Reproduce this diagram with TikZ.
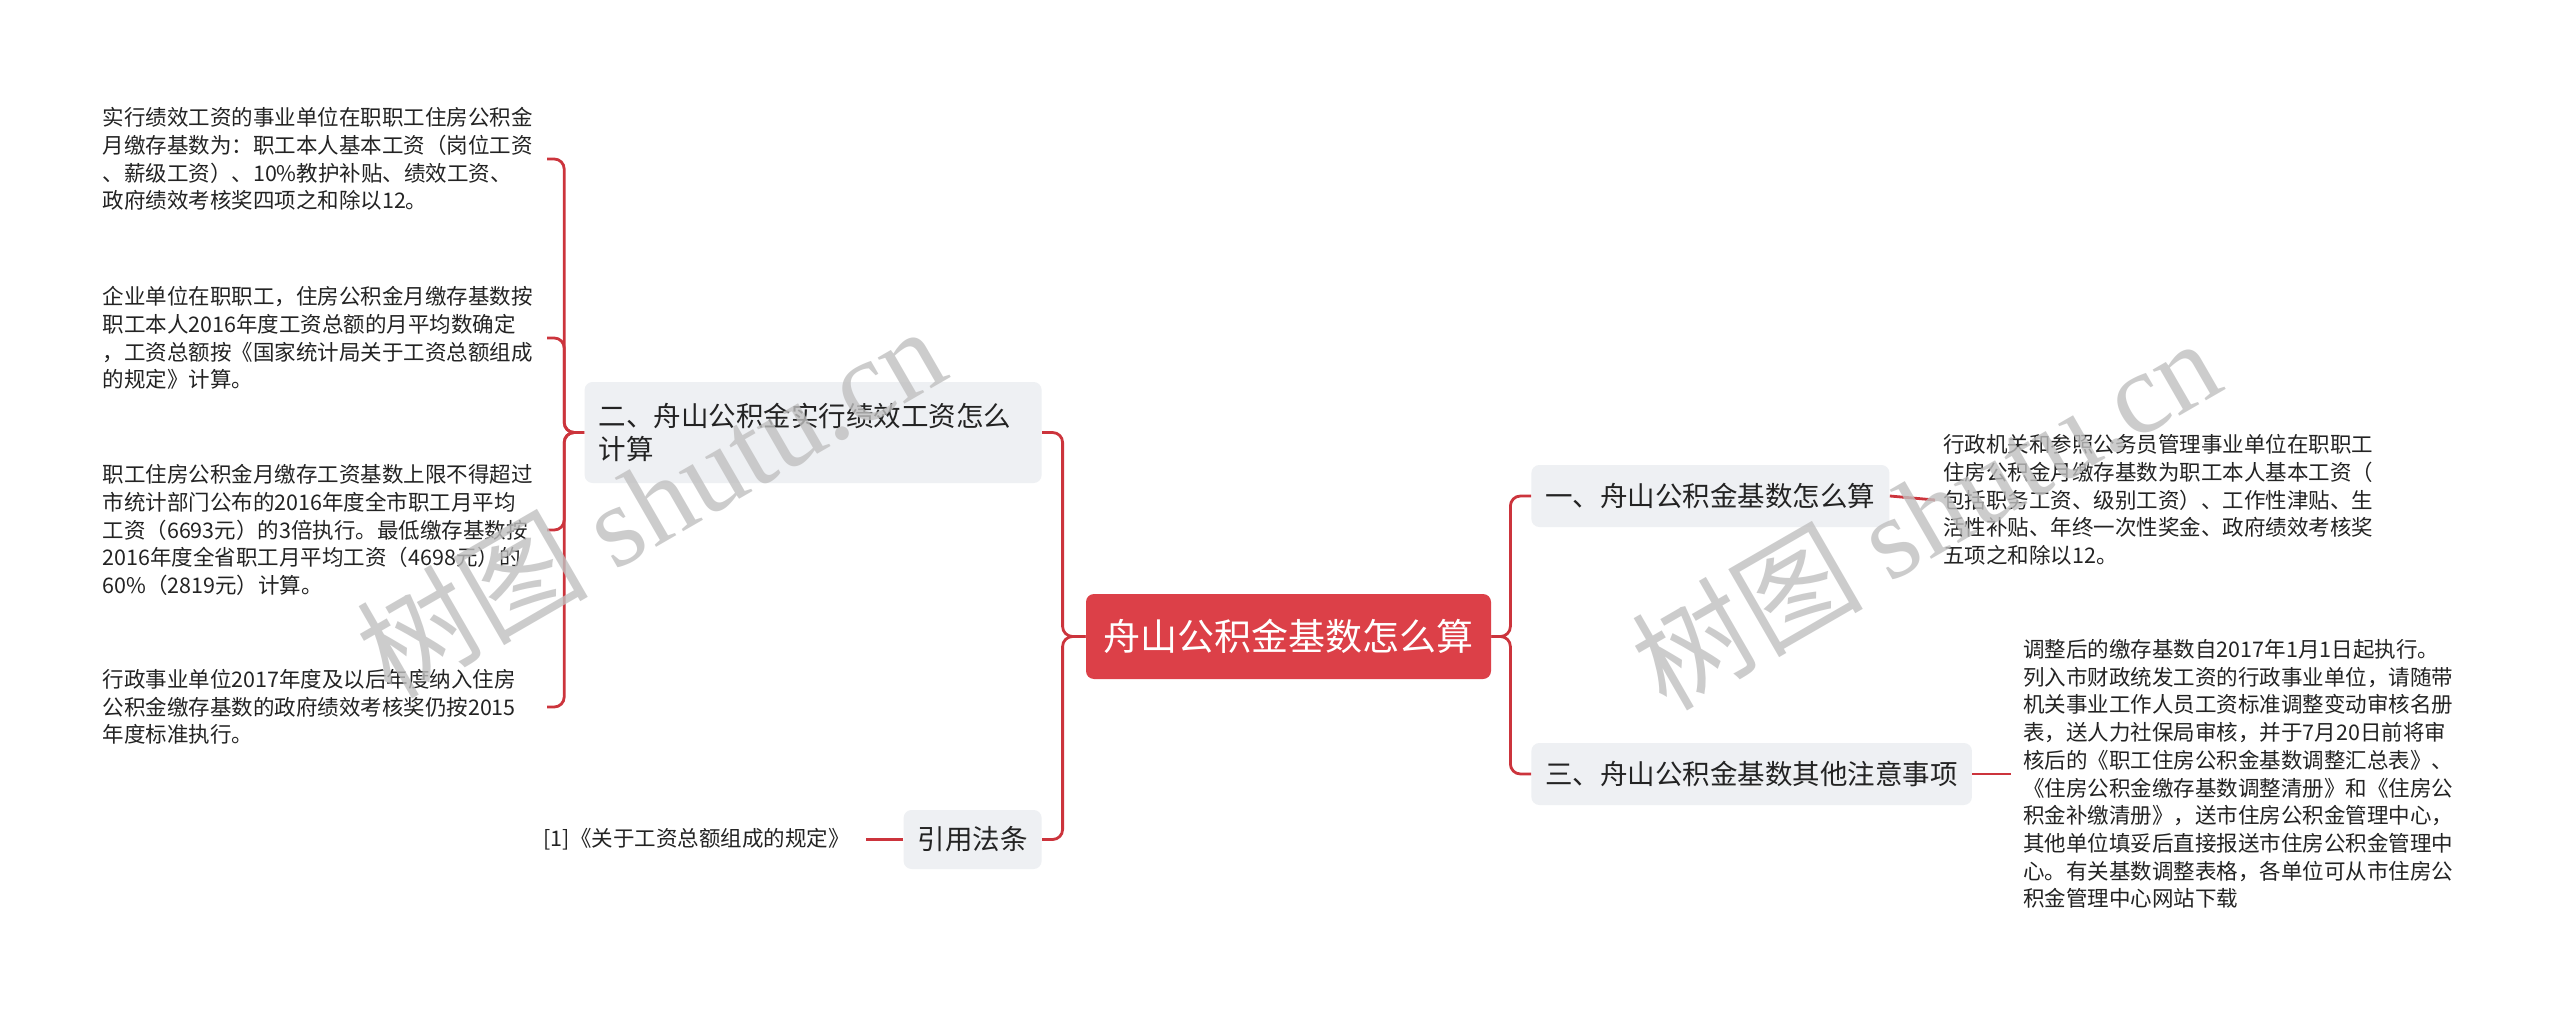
\documentclass[tikz,border=0pt]{standalone}
\usepackage{fontspec}
\setmainfont{Noto Sans CJK SC}
\newfontfamily\wmserif{Liberation Serif}
\definecolor{rootred}{RGB}{220,64,72}
\definecolor{linered}{RGB}{204,52,60}
\definecolor{topicgray}{RGB}{238,240,243}
\definecolor{wmgray}{RGB}{192,192,192}
\definecolor{textdark}{RGB}{35,35,35}
\tikzset{
  conn/.style={draw=linered, line width=1.4pt, rounded corners=5pt},
  rootbox/.style={fill=rootred, text=white, rounded corners=4pt,
    font=\fontsize{18.5}{22}\selectfont, minimum width=202.5pt,
    minimum height=42.5pt, inner sep=0pt},
  topicbox/.style={fill=topicgray, text=textdark, rounded corners=4pt,
    font=\fontsize{13.75}{16.5}\selectfont, inner xsep=7pt, inner ysep=0pt,
    minimum height=31pt},
  leafbox/.style={text=textdark, font=\fontsize{10.75}{13.85}\selectfont,
    inner sep=0pt, align=left},
  wmark/.style={rotate=30, text=wmgray, text opacity=0.8,
    font=\fontsize{58}{62}\selectfont}
}
\begin{document}
\begin{tikzpicture}[x=0.5pt,y=-0.5pt]
\useasboundingbox (0,0) rectangle (2560,1016);
\fill[white] (0,0) rectangle (2560,1016);

% root
\node[rootbox] (root) at (1288.5,636.5) {舟山公积金基数怎么算};

% topics
\node[topicbox, text width=214.5pt, align=left, minimum height=50.5pt, anchor=east]
  (t2) at (1042,432.5) {二、舟山公积金实行绩效工资怎么\\计算};
\node[topicbox, anchor=east, minimum height=29.5pt] (tc) at (1042,839.5) {引用法条};
\node[topicbox, anchor=west] (t1) at (1531,496) {一、舟山公积金基数怎么算};
\node[topicbox, anchor=west] (t3) at (1531,774) {三、舟山公积金基数其他注意事项};

% left leaves
\node[leafbox, text width=222pt, anchor=east] (l1) at (547,159)
  {实行绩效工资的事业单位在职职工住房公积金\\月缴存基数为：职工本人基本工资（岗位工资\\、薪级工资）、10\%教护补贴、绩效工资、\\政府绩效考核奖四项之和除以12。};
\node[leafbox, text width=222pt, anchor=east] (l2) at (547,338)
  {企业单位在职职工，住房公积金月缴存基数按\\职工本人2016年度工资总额的月平均数确定\\，工资总额按《国家统计局关于工资总额组成\\的规定》计算。};
\node[leafbox, text width=222pt, anchor=east] (l3) at (547,530)
  {职工住房公积金月缴存工资基数上限不得超过\\市统计部门公布的2016年度全市职工月平均\\工资（6693元）的3倍执行。最低缴存基数按\\2016年度全省职工月平均工资（4698元）的\\60\%（2819元）计算。};
\node[leafbox, text width=222pt, anchor=east] (l4) at (547,707)
  {行政事业单位2017年度及以后年度纳入住房\\公积金缴存基数的政府绩效考核奖仍按2015\\年度标准执行。};

% citation leaf
\node[leafbox, anchor=east, inner xsep=8pt] (c1) at (866,839.5)
  {[1]《关于工资总额组成的规定》};

% right leaves
\node[leafbox, text width=230pt, anchor=west, inner xsep=4pt] (r1) at (1935,500)
  {行政机关和参照公务员管理事业单位在职职工\\住房公积金月缴存基数为职工本人基本工资（\\包括职务工资、级别工资）、工作性津贴、生\\活性补贴、年终一次性奖金、政府绩效考核奖\\五项之和除以12。};
\node[leafbox, text width=230pt, anchor=west, inner xsep=6pt] (r2) at (2011,774)
  {调整后的缴存基数自2017年1月1日起执行。\\列入市财政统发工资的行政事业单位，请随带\\机关事业工作人员工资标准调整变动审核名册\\表，送人力社保局审核，并于7月20日前将审\\核后的《职工住房公积金基数调整汇总表》、\\《住房公积金缴存基数调整清册》和《住房公\\积金补缴清册》，送市住房公积金管理中心，\\其他单位填妥后直接报送市住房公积金管理中\\心。有关基数调整表格，各单位可从市住房公\\积金管理中心网站下载};

% connectors
\draw[conn] (root.west) -- ++(-23,0) |- (t2.east);
\draw[conn] (root.west) -- ++(-23,0) |- (tc.east);
\draw[conn] (root.east) -- ++(19,0) |- (t1.west);
\draw[conn] (root.east) -- ++(19,0) |- (t3.west);
\draw[conn] (t2.west) -- ++(-20,0) |- (l1.east);
\draw[conn] (t2.west) -- ++(-20,0) |- (l2.east);
\draw[conn] (t2.west) -- ++(-20,0) |- (l3.east);
\draw[conn] (t2.west) -- ++(-20,0) |- (l4.east);
\draw[conn] (tc.west) -- (c1.east);
\draw[conn] (t1.east) -- (r1.west);
\draw[conn] (t3.east) -- (r2.west);

% watermarks
\node[wmark] (wm1) at (650,500) {树图 {\wmserif shutu.cn}};
\node[wmark] (wm2) at (1925,512) {树图 {\wmserif shutu.cn}};
\end{tikzpicture}
\end{document}
